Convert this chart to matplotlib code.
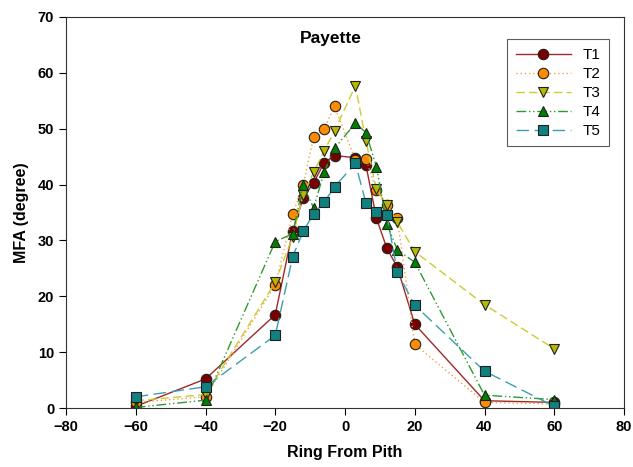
import matplotlib
matplotlib.use("Agg")
import matplotlib.pyplot as plt

plt.rcParams['font.family'] = ['Liberation Sans', 'DejaVu Sans']

ring = [-60, -40, -20, -15, -12, -9, -6, -3, 3, 6, 9, 12, 15, 20, 40, 60]
t1 = [0.3, 5.2, 16.7, 31.7, 37.6, 40.3, 43.9, 45.2, 44.8, 43.5, 34.0, 28.6, 25.2, 15.0, 1.3, 1.0]
t2 = [1.0, 2.0, 22.0, 34.7, 39.9, 48.5, 50.0, 54.0, 44.4, 44.6, 39.0, 36.3, 34.0, 11.4, 1.0, 0.7]
t3 = [1.3, 2.4, 22.5, 30.7, 38.1, 42.2, 46.0, 49.6, 57.7, 47.8, 39.2, 36.4, 33.3, 28.0, 18.5, 10.6]
t4 = [0.1, 1.4, 29.8, 31.2, 40.0, 35.8, 42.2, 46.5, 51.0, 49.3, 43.2, 33.0, 28.3, 26.1, 2.3, 1.5]
t5 = [2.0, 3.8, 13.0, 27.1, 31.6, 34.8, 36.8, 39.6, 43.8, 36.7, 35.1, 34.6, 24.3, 18.4, 6.6, 0.3]
labels = ['T1', 'T2', 'T3', 'T4', 'T5']
xticks = [-80, -60, -40, -20, 0, 20, 40, 60, 80]
yticks = [0, 10, 20, 30, 40, 50, 60, 70]

fig = plt.figure(figsize=(6.33, 4.67), dpi=100)
ax = fig.add_axes([66/633, 1-408/467, (624-66)/633, (408-17)/467])

styles = [
    dict(color='#A02828', ls='-', marker='o', mfc='#7A0000', ms=7.5),
    dict(color='#F5A050', ls=(0, (1, 2)), marker='o', mfc='#FF8C00', ms=7.5),
    dict(color='#CCCC33', ls=(0, (6, 3)), marker='v', mfc='#B8B800', ms=7.5),
    dict(color='#2E9A2E', ls=(0, (7, 2, 1, 2, 1, 2)), marker='^', mfc='#008000', ms=7.5),
    dict(color='#3AA0B0', ls=(0, (9, 4)), marker='s', mfc='#108080', ms=6.5),
]
for ys, lab, st in zip([t1, t2, t3, t4, t5], labels, styles):
    ax.plot(ring, ys, color=st['color'], linestyle=st['ls'], linewidth=1.0,
            marker=st['marker'], markerfacecolor=st['mfc'], markeredgecolor='#202020',
            markeredgewidth=0.8, markersize=st['ms'], label=lab)

ax.set_xlim(-80, 80)
ax.set_ylim(0, 70)
ax.set_xticks(xticks)
ax.set_yticks(yticks)
ax.tick_params(direction='out', length=5, width=0.8, labelsize=10.5)
for lbl in ax.get_xticklabels() + ax.get_yticklabels():
    lbl.set_fontweight('bold')
for sp in ax.spines.values():
    sp.set_linewidth(0.8)
    sp.set_color('#333333')

ax.set_xlabel('Ring From Pith', fontsize=11.5, fontweight='bold', labelpad=8)
ax.set_ylabel('MFA (degree)', fontsize=11.5, fontweight='bold', labelpad=6)
ax.text(-4, 66.2, 'Payette', ha='center', va='center', fontsize=12.5, fontweight='bold')

leg = ax.legend(loc='upper right', bbox_to_anchor=(0.987, 0.962), frameon=True, fancybox=False,
                edgecolor='#333333', fontsize=11, handlelength=3.6, borderpad=0.55,
                labelspacing=0.33, handletextpad=0.8)
leg.get_frame().set_linewidth(0.8)

fig.savefig('out.png', dpi=100)
